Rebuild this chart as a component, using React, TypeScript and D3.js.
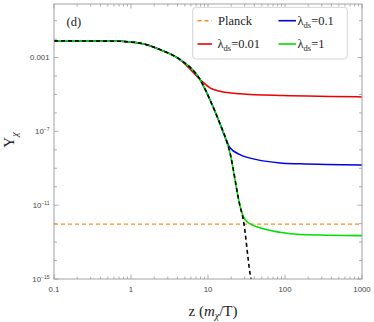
import * as d3 from 'd3';

// values
const eqZ = [0.1, 0.3, 0.72, 1, 1.6, 2.38, 4.33, 7.87, 10.6, 13.6, 19.3, 26.1, 28.7, 35.1, 36.5];
const eqY = [8.04e-3, 7.9e-3, 7.6e-3, 6.9e-3, 5.0e-3, 2.7e-3, 7.8e-4, 6.5e-5, 5.2e-6, 4.4e-7, 6.8e-9, 8.7e-12, 1.7e-12, 2.1e-15, 8e-16];

const redZ = [10.6, 14.3, 26.1, 94, 420, 1000];
const redY = [2.3e-5, 1.5e-5, 1.1e-5, 8.7e-6, 7.8e-6, 7.4e-6];
const redFrom = 7.87;

const blueZ = [16.6, 19.3, 26.1, 42.9, 86, 157, 1000];
const blueY = [5.0e-8, 1.3e-8, 5.5e-9, 2.95e-9, 1.95e-9, 1.74e-9, 1.5e-9];
const blueFrom = 13.6;

const greenZ = [28.7, 31.8, 47.3, 86, 157, 1000];
const greenY = [2.5e-12, 1.3e-12, 5.9e-13, 3.4e-13, 2.6e-13, 2.24e-13];
const greenFrom = 26.1;

const planckY = 9.3e-13;

const xLabels = [0.1, 1, 10, 100, 1000];
const yLabelExp = [-3, -7, -11, -15];

const W = 374;
const H = 322;
const m = { left: 54, right: 12, top: 4, bottom: 43 };

const frameColor = '#9a9a9a';
const tickText = '#444';
const serif = '"Liberation Serif", "DejaVu Serif", serif';
const sans = '"Liberation Sans", "DejaVu Sans", sans-serif';

type Pt = [number, number];

const Lambda = ({ val }: { val: string }) => (
  <>
    <tspan>λ</tspan>
    <tspan fontSize={8.5} dy={2.5}>ds</tspan>
    <tspan dy={-2.5}>{val}</tspan>
  </>
);

const App = () => {
  const x = d3.scaleLog().domain([0.1, 1000]).range([m.left, W - m.right]);
  const y = d3.scaleLog().domain([1e-15, 0.8]).range([H - m.bottom, m.top]);

  const line = d3
    .line<Pt>()
    .x(d => x(d[0]))
    .y(d => y(d[1]))
    .curve(d3.curveMonotoneX);

  const eq: Pt[] = eqZ.map((z, i) => [z, eqY[i]]);
  const branch = (from: number, zs: number[], ys: number[]): Pt[] => [
    ...eq.filter(d => d[0] <= from),
    ...zs.map((z, i) => [z, ys[i]] as Pt),
  ];

  const red = branch(redFrom, redZ, redY);
  const blue = branch(blueFrom, blueZ, blueY);
  const green = branch(greenFrom, greenZ, greenY);

  const x0 = m.left;
  const x1 = W - m.right;
  const y0 = m.top;
  const y1 = H - m.bottom;

  const xTicks = x.ticks();
  const yTicks = d3.range(-15, 0).map(e => Math.pow(10, e));

  const fmtX = (v: number) => (v < 1 ? '0.1' : String(Math.round(v)));

  return (
    <div style={{ position: 'fixed', left: 0, top: 0 }}>
      <svg width={W} height={H} style={{ display: 'block', background: '#fff' }}>
        <defs>
          <clipPath id="plot">
            <rect x={x0} y={y0} width={x1 - x0} height={y1 - y0} />
          </clipPath>
        </defs>

        {/* frame ticks */}
        <g stroke={frameColor} strokeWidth={0.8}>
          {xTicks.map((t, i) => {
            const major = xLabels.some(v => Math.abs(v - t) / v < 1e-6);
            const len = major ? 4.5 : 2.5;
            const px = x(t);
            return (
              <g key={'xt' + i}>
                <line x1={px} x2={px} y1={y1} y2={y1 - len} />
                <line x1={px} x2={px} y1={y0} y2={y0 + len} />
              </g>
            );
          })}
          {yTicks.map((t, i) => {
            const e = Math.round(Math.log10(t));
            const len = yLabelExp.includes(e) ? 4.5 : 3;
            const py = y(t);
            return (
              <g key={'yt' + i}>
                <line x1={x0} x2={x0 + len} y1={py} y2={py} />
                <line x1={x1} x2={x1 - len} y1={py} y2={py} />
              </g>
            );
          })}
        </g>

        {/* tick labels */}
        <g fontFamily={sans} fontSize={7.8} fill={tickText}>
          {xLabels.map(v => (
            <text key={'xl' + v} x={x(v)} y={y1 + 12.5} textAnchor="middle">
              {fmtX(v)}
            </text>
          ))}
          {yLabelExp.map(e => (
            <text key={'yl' + e} x={x0 - 4.5} y={y(Math.pow(10, e)) + 2.8} textAnchor="end">
              {e === -3 ? (
                '0.001'
              ) : (
                <>
                  10
                  <tspan fontSize={5} dy={-3.2}>
                    {'\u2212' + -e}
                  </tspan>
                </>
              )}
            </text>
          ))}
        </g>

        {/* curves */}
        <g clipPath="url(#plot)" fill="none">
          <line
            x1={x0}
            x2={x1}
            y1={y(planckY)}
            y2={y(planckY)}
            stroke="#ff8c1a"
            strokeWidth={1.3}
            strokeDasharray="4,3"
          />
          <path d={line(red) ?? ''} stroke="#f00000" strokeWidth={1.5} />
          <path d={line(blue) ?? ''} stroke="#0000ee" strokeWidth={1.5} />
          <path d={line(green) ?? ''} stroke="#00e000" strokeWidth={1.6} />
          <path d={line(eq) ?? ''} stroke="#000" strokeWidth={1.6} strokeDasharray="4,3" />
        </g>

        {/* frame */}
        <rect x={x0} y={y0} width={x1 - x0} height={y1 - y0} fill="none" stroke={frameColor} strokeWidth={0.9} />

        {/* panel tag */}
        <text x={66.5} y={25.5} fontFamily={serif} fontSize={12.5} fill="#222">
          (d)
        </text>

        {/* legend */}
        <g fontFamily={serif} fontSize={12.5} fill="#222">
          <rect x={192.7} y={7.3} width={154.6} height={51.7} rx={3} fill="#fff" stroke="#d4d4d4" strokeWidth={1} />
          <line x1={197.5} x2={212} y1={20.7} y2={20.7} stroke="#ff8c1a" strokeWidth={1.4} strokeDasharray="4,3" />
          <text x={218} y={25}>Planck</text>
          <line x1={278.5} x2={296} y1={20.7} y2={20.7} stroke="#0000ee" strokeWidth={1.6} />
          <text x={297.5} y={25}>
            <Lambda val="=0.1" />
          </text>
          <line x1={197.5} x2={212} y1={44} y2={44} stroke="#f00000" strokeWidth={1.6} />
          <text x={217.5} y={48.3}>
            <Lambda val="=0.01" />
          </text>
          <line x1={278.5} x2={296} y1={44} y2={44} stroke="#00e000" strokeWidth={1.6} />
          <text x={297.5} y={48.3}>
            <Lambda val="=1" />
          </text>
        </g>

        {/* axis titles */}
        <text x={213} y={315.5} textAnchor="middle" fontFamily={serif} fontSize={15} fill="#222">
          z (<tspan fontStyle="italic">m</tspan>
          <tspan fontStyle="italic" fontSize={10} dy={3.5}>χ</tspan>
          <tspan dy={-3.5}>/T)</tspan>
        </text>
        <text
          transform={`translate(14,140) rotate(-90)`}
          textAnchor="middle"
          fontFamily={serif}
          fontSize={15}
          fill="#222"
        >
          Y<tspan fontStyle="italic" fontSize={10} dy={3.5}>χ</tspan>
        </text>
      </svg>
    </div>
  );
};

export default App;
